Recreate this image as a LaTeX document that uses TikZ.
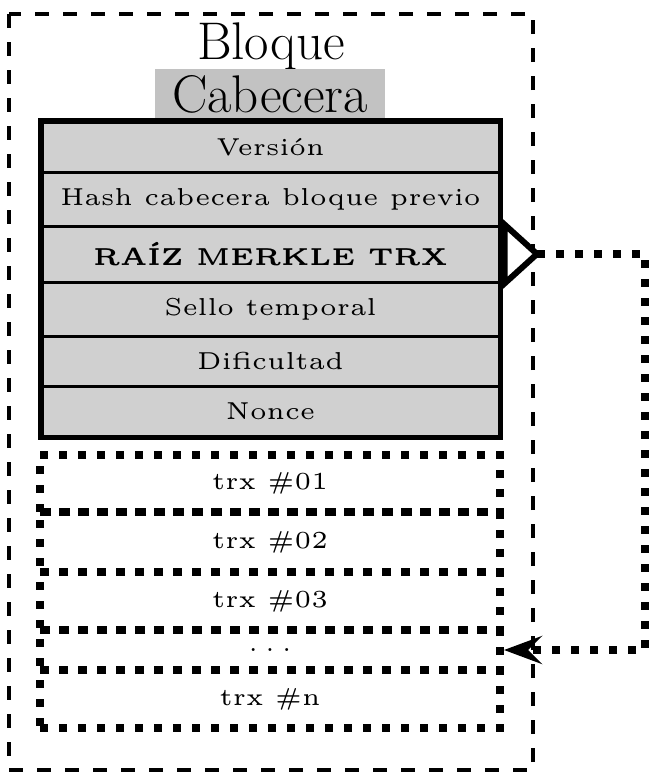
\documentclass[tikz,border=0pt]{standalone}
\usetikzlibrary{arrows.meta}
\definecolor{cellgray}{HTML}{D0D0D0}
\definecolor{titlegray}{HTML}{C2C2C2}
% small design-size text, enlarged
\newcommand\celltext[1]{\scalebox{2.45}{\fontsize{5}{6}\selectfont #1}}
\begin{document}
\begin{tikzpicture}[x=0.5pt,y=-0.5pt,
  outerbox/.style={draw, line width=2pt, dash pattern=on 7pt off 7pt},
  title/.style={font=\fontsize{26.5}{31}\selectfont, inner sep=0pt},
  hdrrow/.style={draw, line width=1.5pt, fill=cellgray, minimum width=228.5pt, inner sep=0pt},
  trxrow/.style={draw, line width=4pt, dash pattern=on 4pt off 5.5pt, minimum width=230pt, inner sep=0pt},
  dotline/.style={line width=4pt, dash pattern=on 4pt off 5.5pt}
]
\useasboundingbox (0,0) rectangle (654,773);

% block frame
\draw[outerbox] (9,14) rectangle (533,770);

\node[title] (bloque) at (271,46) {Bloque};
\node[title, fill=titlegray, minimum width=115pt, minimum height=25pt] (cab) at (270,94) {Cabecera};

% header fields
\node[hdrrow, minimum height=25pt] (ver)   at (270.5,147) {\celltext{Versión}};
\node[hdrrow, minimum height=27pt] (hash)  at (270.5,199) {\celltext{Hash cabecera bloque previo}};
\node[hdrrow, minimum height=28pt] (raiz)  at (270.5,254) {\celltext{\textbf{RAÍZ MERKLE TRX}}};
\node[hdrrow, minimum height=27pt] (sello) at (270.5,309) {\celltext{Sello temporal}};
\node[hdrrow, minimum height=25pt] (dif)   at (270.5,361) {\celltext{Dificultad}};
\node[hdrrow, minimum height=25pt] (nonce) at (270.5,411) {\celltext{Nonce}};
\draw[line width=2.2pt] (ver.north west) rectangle (nonce.south east);

% transactions
\node[trxrow, minimum height=28.5pt] (t1) at (270,483.5) {\celltext{trx \#01}};
\node[trxrow, minimum height=30pt]   (t2) at (270,542)   {\celltext{trx \#02}};
\node[trxrow, minimum height=29pt]   (t3) at (270,601)   {\celltext{trx \#03}};
\node[trxrow, minimum height=20pt]   (td) at (270,650)   {\celltext{.\hspace{1.4pt}.\hspace{1.4pt}.}};
\node[trxrow, minimum height=29pt]   (tn) at (270,699)   {\celltext{trx \#n}};

% merkle root link
\coordinate (tip) at (537,254);
\coordinate (turn) at (645,254);
\draw[line width=3pt, fill=white, line join=miter]
  ([xshift=2pt]raiz.north east) -- (tip) -- ([xshift=2pt]raiz.south east) -- cycle;
\draw[dotline, -{Stealth[length=19pt, width=14pt, inset=7pt]}]
  (tip) -- (turn) |- (td.east);
\end{tikzpicture}
\end{document}
